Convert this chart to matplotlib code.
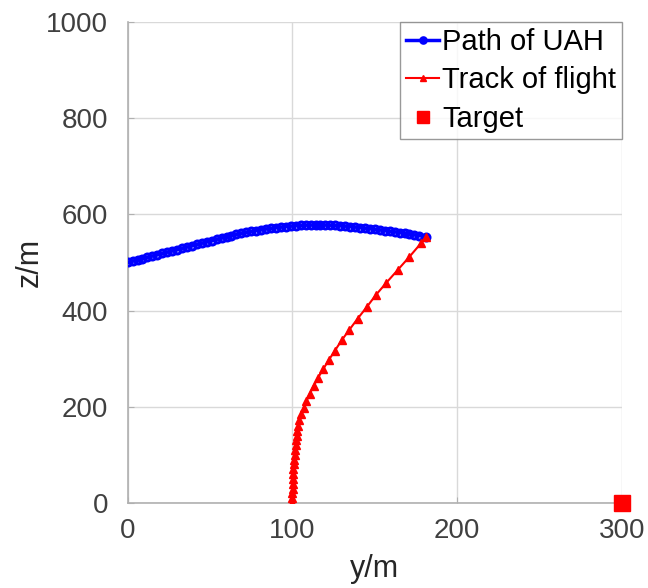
import matplotlib
matplotlib.use("Agg")
import matplotlib.pyplot as plt

plt.rcParams['font.family'] = ['Liberation Sans', 'DejaVu Sans']

# Path of UAH (y, z)
uah_y = [0, 3, 6, 9, 12, 15, 18, 21, 24, 27, 30, 33, 36, 39, 42, 45, 48, 51, 54, 57,
         60, 63, 66, 69, 72, 75, 78, 81, 84, 87, 90, 93, 96, 99, 102, 105, 108, 111,
         114, 117, 120, 123, 126, 129, 132, 135, 138, 141, 144, 147, 150, 153, 156,
         159, 162, 165, 168, 171, 174, 177, 181]
uah_z = [500, 502.7, 505.3, 508, 510.7, 513.4, 516, 518.7, 521.4, 524, 526.7, 529.4,
         532, 534.7, 537.4, 540, 542.7, 545.4, 548, 550.7, 553.4, 556, 558.5, 560.7,
         562.7, 564.6, 566.4, 568, 569.6, 571, 572.3, 573.5, 574.6, 575.6, 576.4, 577,
         577.5, 577.8, 578, 578, 577.8, 577.5, 577, 576.4, 575.6, 574.7, 573.7, 572.6,
         571.4, 570.2, 568.9, 567.6, 566.3, 565, 563.6, 562.2, 560.7, 559.1, 557.4,
         555.6, 553]

# Track of flight (y, z)
trk_z = [0, 10, 20, 30, 40, 50, 60, 70, 80, 90, 100, 110, 120, 130, 140, 150, 160,
         172, 185, 198, 212, 227, 243, 260, 278, 297, 317, 338, 360, 383, 407, 432,
         458, 485, 512, 540, 553]
trk_y = [100, 100, 100, 100.1, 100.2, 100.3, 100.4, 100.6, 100.8, 101.1, 101.3, 101.6,
         101.9, 102.2, 102.5, 102.9, 103.3, 104.2, 105.4, 106.8, 108.5, 110.5, 112.8,
         115.5, 118.6, 122.0, 125.8, 129.8, 134.5, 139.5, 145, 150.5, 157, 164, 171,
         178, 181]

# Target
target_y = [300]
target_z = [0]

x_ticks = [0, 100, 200, 300]
y_ticks = [0, 200, 400, 600, 800, 1000]

fig = plt.figure(figsize=(6.48, 5.88), dpi=100)
ax = fig.add_axes([0.197, 0.1446, 0.763, 0.818])

ax.plot(uah_y, uah_z, color='#0000ff', marker='o', markersize=5, mfc='none',
        mew=2.2, lw=2.5, label='Path of UAH', zorder=3)
ax.plot(trk_y, trk_z, color='#ff0000', marker='^', markersize=6, mfc='#ff0000',
        mew=1, lw=1.5, label='Track of flight', zorder=3)
ax.plot(target_y, target_z, ls='none', marker='s', markersize=11, color='#ff0000',
        label='Target', clip_on=False, zorder=4)

ax.set_xlim(0, 300)
ax.set_ylim(0, 1000)
ax.set_xticks(x_ticks)
ax.set_yticks(y_ticks)
ax.grid(True, color='#d9d9d9', lw=1)
ax.set_axisbelow(True)
for s in ['top', 'right']:
    ax.spines[s].set_visible(False)
for s in ['left', 'bottom']:
    ax.spines[s].set_color('#b0b0b0')
    ax.spines[s].set_linewidth(1.2)
ax.tick_params(direction='in', length=4, color='#b0b0b0', labelsize=20,
               labelcolor='#404040')
ax.tick_params(axis='x', pad=11)
ax.tick_params(axis='y', pad=14)
ax.set_xlabel('y/m', fontsize=22, color='#262626', labelpad=7)
ax.set_ylabel('z/m', fontsize=22, color='#262626', labelpad=1)

leg = ax.legend(loc='upper right', fontsize=21, frameon=True, fancybox=False,
                edgecolor='#808080', handlelength=1.15, handletextpad=0.1,
                borderpad=0.2, labelspacing=0.36, borderaxespad=0.0,
                markerscale=0.8)
leg.get_frame().set_linewidth(1.0)
for t in leg.get_texts():
    t.set_color('#000000')

fig.savefig('out.png', dpi=100, facecolor='white')
